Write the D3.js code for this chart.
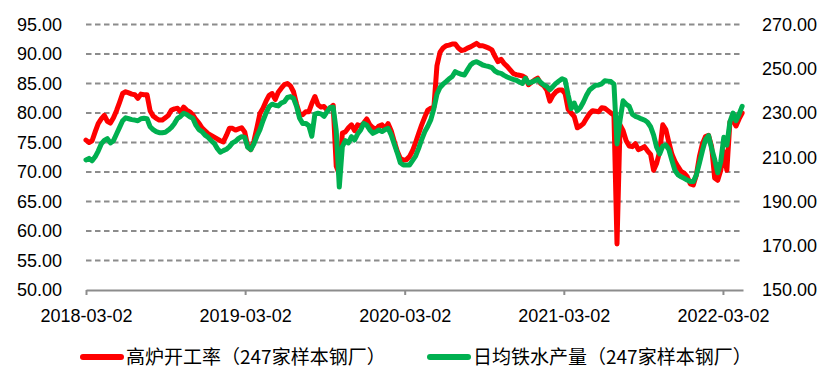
<!DOCTYPE html>
<html><head><meta charset="utf-8">
<script src="https://cdn.jsdelivr.net/npm/d3@7"></script>
<style>html,body{margin:0;padding:0;background:#fff;} svg{display:block;}</style>
</head><body><svg id="c" width="833" height="380"></svg>
<script>
const weeks = [
"2018-03-02","2018-03-09","2018-03-16","2018-03-23","2018-03-30","2018-04-06","2018-04-13","2018-04-20","2018-04-27","2018-05-04",
"2018-05-11","2018-05-18","2018-05-25","2018-06-01","2018-06-08","2018-06-15","2018-06-22","2018-06-29","2018-07-06","2018-07-13",
"2018-07-20","2018-07-27","2018-08-03","2018-08-10","2018-08-17","2018-08-24","2018-08-31","2018-09-07","2018-09-14","2018-09-21",
"2018-09-28","2018-10-05","2018-10-12","2018-10-19","2018-10-26","2018-11-02","2018-11-09","2018-11-16","2018-11-23","2018-11-30",
"2018-12-07","2018-12-14","2018-12-21","2018-12-28","2019-01-04","2019-01-11","2019-01-18","2019-01-25","2019-02-01","2019-02-08",
"2019-02-15","2019-02-22","2019-03-01","2019-03-08","2019-03-15","2019-03-22","2019-03-29","2019-04-05","2019-04-12","2019-04-19",
"2019-04-26","2019-05-03","2019-05-10","2019-05-17","2019-05-24","2019-05-31","2019-06-07","2019-06-14","2019-06-21","2019-06-28",
"2019-07-05","2019-07-12","2019-07-19","2019-07-26","2019-08-02","2019-08-09","2019-08-16","2019-08-23","2019-08-30","2019-09-06",
"2019-09-13","2019-09-20","2019-09-27","2019-10-04","2019-10-11","2019-10-18","2019-10-25","2019-11-01","2019-11-08","2019-11-15",
"2019-11-22","2019-11-29","2019-12-06","2019-12-13","2019-12-20","2019-12-27","2020-01-03","2020-01-10","2020-01-17","2020-01-24",
"2020-01-31","2020-02-07","2020-02-14","2020-02-21","2020-02-28","2020-03-06","2020-03-13","2020-03-20","2020-03-27","2020-04-03",
"2020-04-10","2020-04-17","2020-04-24","2020-05-01","2020-05-08","2020-05-15","2020-05-22","2020-05-29","2020-06-05","2020-06-12",
"2020-06-19","2020-06-26","2020-07-03","2020-07-10","2020-07-17","2020-07-24","2020-07-31","2020-08-07","2020-08-14","2020-08-21",
"2020-08-28","2020-09-04","2020-09-11","2020-09-18","2020-09-25","2020-10-02","2020-10-09","2020-10-16","2020-10-23","2020-10-30",
"2020-11-06","2020-11-13","2020-11-20","2020-11-27","2020-12-04","2020-12-11","2020-12-18","2020-12-25","2021-01-01","2021-01-08",
"2021-01-15","2021-01-22","2021-01-29","2021-02-05","2021-02-12","2021-02-19","2021-02-26","2021-03-05","2021-03-12","2021-03-19",
"2021-03-26","2021-04-02","2021-04-09","2021-04-16","2021-04-23","2021-04-30","2021-05-07","2021-05-14","2021-05-21","2021-05-28",
"2021-06-04","2021-06-11","2021-06-18","2021-06-25","2021-07-02","2021-07-09","2021-07-16","2021-07-23","2021-07-30","2021-08-06",
"2021-08-13","2021-08-20","2021-08-27","2021-09-03","2021-09-10","2021-09-17","2021-09-24","2021-10-01","2021-10-08","2021-10-15",
"2021-10-22","2021-10-29","2021-11-05","2021-11-12","2021-11-19","2021-11-26","2021-12-03","2021-12-10","2021-12-17","2021-12-24",
"2021-12-31","2022-01-07","2022-01-14","2022-01-21","2022-01-28","2022-02-04","2022-02-11","2022-02-18","2022-02-25","2022-03-04",
"2022-03-11","2022-03-18","2022-03-25","2022-04-01","2022-04-08","2022-04-15"];

// 高炉开工率 (%), left axis
const furnaceRate = [
75.4,75.0,75.3,76.8,78.2,79.0,79.6,78.6,78.3,79.2,
80.4,81.8,83.3,83.6,83.4,83.2,83.1,82.5,83.2,83.1,
83.1,80.4,79.5,79.1,78.8,78.8,79.2,79.6,80.5,80.7,
80.8,80.2,81.0,80.5,80.2,79.7,78.9,78.3,77.5,77.0,
76.5,76.2,75.9,75.6,75.3,75.1,76.2,77.4,77.4,77.1,
77.3,77.5,76.8,74.3,73.8,75.2,77.5,79.9,80.8,82.0,
83.0,83.3,82.3,83.5,84.2,84.8,85.0,84.6,83.6,81.5,
79.8,79.7,80.2,80.2,81.6,82.8,81.4,81.0,81.1,80.5,
80.8,81.3,71.0,69.6,76.6,76.8,77.5,78.0,77.0,78.0,
77.8,78.3,79.0,78.0,77.5,77.2,77.8,78.0,77.4,78.2,
77.0,75.2,73.5,72.3,72.0,72.1,72.6,73.6,75.0,76.5,
78.0,79.3,80.5,80.8,81.0,88.0,90.3,91.0,91.4,91.5,
91.7,91.7,91.0,90.6,90.7,91.0,91.2,91.5,91.8,91.4,
91.4,91.2,91.0,90.7,89.6,88.7,89.1,88.4,87.9,87.3,
86.7,86.5,86.4,86.3,86.0,84.8,85.2,85.6,85.9,85.0,
84.6,83.9,82.0,83.0,83.6,83.9,83.9,83.3,80.6,80.0,
79.4,77.5,77.8,78.2,79.1,79.9,80.4,80.3,80.2,80.9,
80.8,80.4,80.0,79.6,57.8,78.0,77.0,75.3,74.4,74.3,
74.8,73.8,74.0,74.3,73.6,73.0,70.3,71.5,73.5,78.0,
77.2,75.0,73.0,71.8,70.9,70.1,69.8,69.2,68.0,67.8,
69.5,72.6,74.8,76.0,76.2,74.3,69.0,68.6,70.3,73.5,
70.3,78.5,78.8,77.8,79.0,80.0];

// 日均铁水产量 (万吨), right axis
const hotMetalOutput = [
208.8,209.5,208.4,210.2,212.8,216.0,217.6,218.4,216.5,217.5,
220.5,223.5,226.5,227.8,227.4,227.0,226.8,226.5,227.4,227.6,
227.4,223.8,222.5,221.6,221.1,221.1,221.3,222.3,223.5,225.3,
227.6,228.5,229.9,229.3,228.3,227.6,224.5,222.5,221.6,220.0,
219.0,217.5,216.3,214.0,212.3,213.0,213.6,214.8,216.5,217.2,
218.5,219.3,219.0,214.5,213.5,216.0,219.5,222.5,226.5,230.0,
232.9,234.0,233.5,233.2,234.5,235.1,237.0,237.4,236.6,233.0,
227.6,225.3,225.3,224.3,219.5,229.5,229.9,229.6,228.5,230.6,
232.5,232.6,222.0,196.5,214.8,217.5,216.5,219.3,217.8,220.5,
222.3,225.3,224.5,222.3,220.8,221.5,222.3,221.6,222.5,223.1,
220.1,216.0,212.0,207.5,206.5,206.5,206.5,208.5,210.5,214.0,
218.0,221.5,224.0,227.0,232.0,238.5,241.5,243.0,244.2,245.5,
246.5,248.7,248.0,247.5,247.2,249.5,251.7,252.8,253.2,252.5,
251.7,251.3,251.0,250.5,249.0,248.2,247.9,247.0,246.3,245.7,
245.2,244.8,244.0,243.4,245.7,243.5,244.0,244.5,245.2,243.8,
242.7,242.0,240.5,242.0,243.4,244.5,245.5,244.9,238.0,232.0,
234.5,231.0,232.5,235.0,238.0,240.4,241.5,242.5,242.7,243.2,
244.6,244.4,244.2,243.0,216.0,226.8,235.5,234.0,233.0,229.5,
228.5,228.0,227.3,226.8,225.8,223.8,220.0,214.5,211.5,215.0,
215.5,213.5,208.5,204.0,202.0,201.2,200.5,199.7,199.0,199.0,
202.0,207.3,213.0,218.0,219.8,214.0,209.0,203.0,208.0,219.0,
215.5,226.0,230.0,226.5,229.5,233.0];

const leftTicks = [50,55,60,65,70,75,80,85,90,95];
const rightTicks = [150,170,190,210,230,250,270];
const xTickLabels = ["2018-03-02","2019-03-02","2020-03-02","2021-03-02","2022-03-02"];
const seriesNames = ["高炉开工率（247家样本钢厂）","日均铁水产量（247家样本钢厂）"];
const seriesColors = ["#FF0000","#00B050"];

const parse = d3.utcParse("%Y-%m-%d");
const svg = d3.select("#c");
const numFont = "'Liberation Sans', Arial, sans-serif";
const x = d3.scaleUtc().domain([parse("2018-03-02"), parse("2022-04-17")]).range([86, 743]);
const yL = d3.scaleLinear().domain([50, 95]).range([290, 24.5]);
const yR = d3.scaleLinear().domain([150, 270]).range([290, 24.5]);
const gridColor = "#8c8c8c";

// gridlines
svg.append("g").selectAll("line").data(leftTicks.filter(d => d !== 50)).join("line")
  .attr("x1", x.range()[0]).attr("x2", x.range()[1])
  .attr("y1", d => yL(d)).attr("y2", d => yL(d))
  .attr("stroke", gridColor).attr("stroke-width", 2).attr("stroke-dasharray", "5.5,3.5");

// x axis
const xAxis = d3.axisBottom(x).tickValues(xTickLabels.map(parse))
  .tickFormat(d3.utcFormat("%Y-%m-%d")).tickSizeInner(5).tickSizeOuter(0).tickPadding(14);
const gx = svg.append("g").attr("transform", `translate(0,${yL(50)})`).call(xAxis);
gx.select(".domain").attr("stroke", gridColor).attr("stroke-width", 2);
gx.selectAll(".tick line").attr("stroke", gridColor).attr("stroke-width", 2);
gx.selectAll(".tick text").attr("fill", "#000").style("font-family", numFont).style("font-size", "18px");

// left axis
const gl = svg.append("g").attr("transform", "translate(62,0)")
  .call(d3.axisLeft(yL).tickValues(leftTicks).tickFormat(d3.format(".2f")).tickSize(0).tickPadding(0));
gl.select(".domain").remove();
gl.selectAll(".tick text").attr("fill", "#000").style("font-family", numFont).style("font-size", "18px");

// right axis
const gr = svg.append("g").attr("transform", "translate(762,0)")
  .call(d3.axisRight(yR).tickValues(rightTicks).tickFormat(d3.format(".2f")).tickSize(0).tickPadding(0));
gr.select(".domain").remove();
gr.selectAll(".tick text").attr("fill", "#000").style("font-family", numFont).style("font-size", "18px");

// lines
const redData = weeks.map((d, i) => ({ date: parse(d), v: furnaceRate[i] }));
const greenData = weeks.map((d, i) => ({ date: parse(d), v: hotMetalOutput[i] }));
svg.append("path").datum(redData)
  .attr("fill", "none").attr("stroke", seriesColors[0]).attr("stroke-width", 5)
  .attr("stroke-linejoin", "round").attr("stroke-linecap", "round")
  .attr("d", d3.line().x(d => x(d.date)).y(d => yL(d.v)));
svg.append("path").datum(greenData)
  .attr("fill", "none").attr("stroke", seriesColors[1]).attr("stroke-width", 5)
  .attr("stroke-linejoin", "round").attr("stroke-linecap", "round")
  .attr("d", d3.line().x(d => x(d.date)).y(d => yR(d.v)));

// legend
const legendX = [83, 430];
const leg = svg.append("g");
seriesNames.forEach((name, i) => {
  leg.append("line").attr("x1", legendX[i]).attr("x2", legendX[i] + 38)
    .attr("y1", 357).attr("y2", 357)
    .attr("stroke", seriesColors[i]).attr("stroke-width", 6).attr("stroke-linecap", "round");
  leg.append("text").attr("x", legendX[i] + 43).attr("y", 357).attr("dy", "0.36em")
    .attr("fill", "#000").style("font-family", "'Noto Sans CJK SC', sans-serif").style("font-size", "19px")
    .text(name);
});
</script>
</body></html>
